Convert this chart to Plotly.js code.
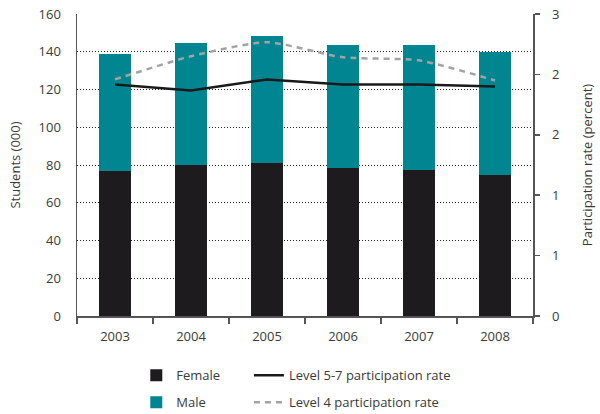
<!DOCTYPE html>
<html>
<head>
<meta charset="utf-8">
<script src="https://cdn.plot.ly/plotly-3.0.1.min.js"></script>
<style>
  html, body { margin: 0; padding: 0; background: #fff; }
  #chart { width: 600px; height: 414px; }
</style>
</head>
<body>
<div id="chart"></div>
<script>
// Students enrolled (thousands) and participation rates (percent), 2003-2008
const years = ['2003', '2004', '2005', '2006', '2007', '2008'];
const female = [76.8, 80.0, 81.0, 78.4, 77.4, 74.7];
const male = [62.0, 64.6, 67.3, 65.2, 66.2, 65.3];
const level57Rate = [2.30, 2.24, 2.35, 2.30, 2.30, 2.28];
const level4Rate = [2.35, 2.58, 2.72, 2.57, 2.54, 2.34];

const rateTicks = [0, 0.6, 1.2, 1.8, 2.4, 3.0];
const rateTickText = ['0', '1', '1', '2', '2', '3'];

const font = 'Open Sans, Liberation Sans, Arial, sans-serif';
const textColor = '#3a3a3a';
const axisColor = '#555555';

const traces = [
  {
    type: 'bar', name: 'Female', x: years, y: female,
    marker: { color: '#1d1b1e' }, width: 0.41,
    legend: 'legend', legendgroup: 'f'
  },
  {
    type: 'bar', name: 'Male', x: years, y: male,
    marker: { color: '#008591' }, width: 0.41,
    legend: 'legend', legendgroup: 'm'
  },
  {
    type: 'scatter', mode: 'lines', name: 'Level 5-7 participation rate',
    x: years, y: level57Rate, yaxis: 'y2',
    line: { color: '#1a1a1a', width: 2.5 },
    legend: 'legend2', legendgroup: 'l57'
  },
  {
    type: 'scatter', mode: 'lines', name: 'Level 4 participation rate',
    x: years, y: level4Rate, yaxis: 'y2',
    line: { color: '#a3a3a3', width: 2.5, dash: '6px,5px', shape: 'spline', smoothing: 0.6 },
    legend: 'legend2', legendgroup: 'l4'
  }
];

const legendCommon = {
  orientation: 'v', xanchor: 'left', yanchor: 'top',
  font: { family: font, size: 13, color: textColor },
  tracegroupgap: 7, bgcolor: 'rgba(0,0,0,0)'
};

const layout = {
  width: 600, height: 414,
  margin: { l: 77, r: 67, t: 14, b: 98, autoexpand: false },
  paper_bgcolor: '#ffffff', plot_bgcolor: '#ffffff',
  barmode: 'stack',
  font: { family: font, size: 13, color: textColor },
  showlegend: true,
  hovermode: false,
  xaxis: {
    type: 'category',
    showline: true, linecolor: axisColor, linewidth: 1.5,
    ticks: 'outside', tickson: 'boundaries', ticklen: 6, tickcolor: axisColor, tickwidth: 1.5,
    ticklabelstandoff: 8,
    showgrid: false, zeroline: false,
    tickfont: { family: font, size: 13, color: textColor }
  },
  yaxis: {
    range: [0, 160], tickvals: [0, 20, 40, 60, 80, 100, 120, 140, 160],
    showline: true, linecolor: axisColor, linewidth: 1.5,
    ticks: 'outside', ticklen: 12, tickcolor: 'rgba(0,0,0,0)',
    showgrid: true, gridcolor: '#222222', gridwidth: 1, griddash: '1px,2px',
    zeroline: false,
    tickfont: { family: font, size: 13, color: textColor },
    title: { text: 'Students (000)', font: { family: font, size: 13, color: textColor }, standoff: 15 }
  },
  yaxis2: {
    overlaying: 'y', side: 'right', range: [0, 3],
    tickvals: rateTicks, ticktext: rateTickText,
    showline: true, linecolor: axisColor, linewidth: 1.5,
    ticks: 'outside', ticklen: 5, tickcolor: axisColor, tickwidth: 1.5,
    ticklabelstandoff: 10,
    showgrid: false, zeroline: false,
    tickfont: { family: font, size: 13, color: textColor },
    title: { text: 'Participation rate (percent)', font: { family: font, size: 13, color: textColor }, standoff: 24 }
  },
  legend: Object.assign({ x: 0.13, y: -0.147 }, legendCommon),
  legend2: Object.assign({ x: 0.377, y: -0.147 }, legendCommon)
};

Plotly.newPlot('chart', traces, layout, { displayModeBar: false, staticPlot: true });
</script>
</body>
</html>
